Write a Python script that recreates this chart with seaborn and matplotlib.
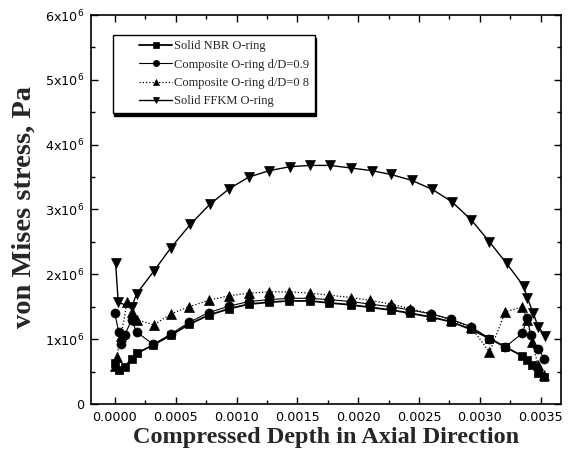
import numpy as np
import pandas as pd
import matplotlib
matplotlib.use("Agg")
import matplotlib.pyplot as plt
import seaborn as sns
from matplotlib.lines import Line2D
from matplotlib.legend_handler import HandlerLine2D
from matplotlib.ticker import MultipleLocator, FixedLocator, FixedFormatter

# ---------------- data (stress in units of 1e6 Pa) ----------------
nbr_x = [0.0, 0.000035, 0.00008, 0.000137, 0.000178, 0.000315, 0.00046, 0.00061,
         0.00077, 0.00094, 0.0011, 0.00127, 0.00143, 0.0016, 0.00176, 0.00194,
         0.0021, 0.00227, 0.00243, 0.0026, 0.00276, 0.00293, 0.00308, 0.00321,
         0.00335, 0.00339, 0.00343, 0.00348, 0.00353]
nbr_y = [0.63, 0.52, 0.57, 0.70, 0.78, 0.91, 1.06, 1.23, 1.37, 1.47, 1.54, 1.57,
         1.59, 1.59, 1.56, 1.53, 1.49, 1.45, 1.40, 1.34, 1.27, 1.15, 1.01, 0.88,
         0.74, 0.68, 0.60, 0.48, 0.41]

c09_x = [0.0, 0.00003, 0.00005, 0.00008, 0.000137, 0.000178, 0.000315, 0.00046,
         0.00061, 0.00077, 0.00094, 0.0011, 0.00127, 0.00143, 0.0016, 0.00176,
         0.00194, 0.0021, 0.00227, 0.00243, 0.0026, 0.00276, 0.00293, 0.00308,
         0.00321, 0.00335, 0.00339, 0.00342, 0.00348, 0.00353]
c09_y = [1.40, 1.11, 0.93, 1.06, 1.30, 1.11, 0.92, 1.08, 1.26, 1.41, 1.51, 1.58,
         1.61, 1.63, 1.63, 1.61, 1.58, 1.54, 1.50, 1.45, 1.39, 1.31, 1.19, 1.01,
         0.88, 1.09, 1.33, 1.06, 0.85, 0.70]

c08_x = [0.0, 0.000014, 0.00005, 0.0001, 0.00014, 0.00018, 0.00032, 0.00046,
         0.00061, 0.00077, 0.00094, 0.0011, 0.00127, 0.00143, 0.0016, 0.00176,
         0.00194, 0.0021, 0.00227, 0.00243, 0.0026, 0.00276, 0.00293, 0.00308,
         0.00321, 0.00335, 0.00339, 0.00343, 0.00348, 0.00353]
c08_y = [0.58, 0.73, 1.05, 1.57, 1.42, 1.30, 1.22, 1.39, 1.50, 1.60, 1.67, 1.71,
         1.73, 1.73, 1.71, 1.68, 1.64, 1.60, 1.54, 1.47, 1.39, 1.30, 1.18, 0.80,
         1.42, 1.50, 1.30, 0.95, 0.60, 0.45]

ffkm_x = [0.000005, 0.000027, 0.000137, 0.000178, 0.00032, 0.00046, 0.00062,
          0.00078, 0.00094, 0.0011, 0.00127, 0.00144, 0.0016, 0.00177, 0.00194,
          0.00211, 0.00227, 0.00244, 0.00261, 0.00277, 0.00293, 0.00308, 0.00322,
          0.00336, 0.00339, 0.00344, 0.00348, 0.00354]
ffkm_y = [2.18, 1.57, 1.49, 1.70, 2.05, 2.41, 2.77, 3.08, 3.32, 3.50, 3.60, 3.66,
          3.68, 3.68, 3.64, 3.60, 3.54, 3.45, 3.31, 3.12, 2.84, 2.50, 2.17, 1.82,
          1.64, 1.40, 1.19, 1.05]

labels = ["Solid NBR O-ring", "Composite O-ring d/D=0.9",
          "Composite O-ring d/D=0 8", "Solid FFKM O-ring"]
x_ticks = [0.0, 0.0005, 0.0010, 0.0015, 0.0020, 0.0025, 0.0030, 0.0035]
x_tick_labels = ["0.0000", "0.0005", "0.0010", "0.0015", "0.0020", "0.0025",
                 "0.0030", "0.0035"]
y_ticks = [0, 1, 2, 3, 4, 5, 6]

# ---------------- styling ----------------
sns.set_theme(style="ticks")
plt.rcParams["font.family"] = ["DejaVu Sans"]
plt.rcParams["mathtext.default"] = "regular"

fig = plt.figure(figsize=(5.71, 4.61), dpi=100)
ax = fig.add_axes([91 / 571, 1 - 404 / 461, (561 - 91) / 571, (404 - 15) / 461])

series = [
    (nbr_x, nbr_y, "s", 5.5, "-", 1.3),
    (c09_x, c09_y, "o", 6.5, "-", 0.8),
    (c08_x, c08_y, "^", 6.5, (0, (1, 1.6)), 0.9),
    (ffkm_x, ffkm_y, "v", 7.0, "-", 1.0),
]
for (xs, ys, mk, ms, ls, lw), lab in zip(series, labels):
    df = pd.DataFrame({"x": xs, "y": np.array(ys) * 1e6})
    sns.lineplot(data=df, x="x", y="y", ax=ax, color="black", marker=mk,
                 markersize=ms, markeredgecolor="black", markeredgewidth=0.5,
                 linestyle=ls, linewidth=lw, estimator=None, sort=False,
                 label=lab)

ax.set_xlim(-0.000197, 0.003668)
ax.set_ylim(0, 6e6)
ax.xaxis.set_major_locator(FixedLocator(x_ticks))
ax.xaxis.set_major_formatter(FixedFormatter(x_tick_labels))
ax.xaxis.set_minor_locator(MultipleLocator(0.00025))
ax.yaxis.set_major_locator(FixedLocator([v * 1e6 for v in y_ticks]))
ax.yaxis.set_major_formatter(FixedFormatter(
    ["0"] + [r"$\mathregular{%dx10^{6}}$" % v for v in y_ticks[1:]]))
ax.yaxis.set_minor_locator(MultipleLocator(0.5e6))

ax.tick_params(which="both", direction="in", top=True, right=True,
               width=1.0, colors="black", labelsize=9.2)
ax.tick_params(which="major", length=5, pad=5)
ax.tick_params(which="minor", length=3)
for sp in ax.spines.values():
    sp.set_linewidth(1.2)
    sp.set_color("black")

ax.set_xlabel("Compressed Depth in Axial Direction", family="Liberation Serif",
              fontweight="bold", fontsize=17.5)
ax.set_ylabel("von Mises stress, Pa", family="Liberation Serif",
              fontweight="bold", fontsize=20.5)
ax.xaxis.set_label_coords(0.501, -0.085)
ax.xaxis.label.set_va("center")
ax.yaxis.set_label_coords(-0.1426, 0.506)
ax.yaxis.label.set_va("center")


def _upd(handle, orig):
    handle.update_from(orig)
    handle.set_markersize(4.5)


fs = 9
leg = ax.legend(loc="upper left", bbox_to_anchor=(0.046, 0.949),
                borderaxespad=0, frameon=True, fancybox=False,
                edgecolor="black", framealpha=1, facecolor="white",
                shadow={"color": "black", "alpha": 1, "ox": 1.2, "oy": -2.2},
                prop={"family": "Liberation Serif", "size": fs},
                handlelength=4.3, handletextpad=0.15, labelspacing=0.5,
                borderpad=0.45, numpoints=1,
                handler_map={Line2D: HandlerLine2D(xpad=1.68, numpoints=1,
                                                   update_func=_upd)})
leg.get_frame().set_linewidth(1.0)

fig.savefig("out.png", dpi=100)
